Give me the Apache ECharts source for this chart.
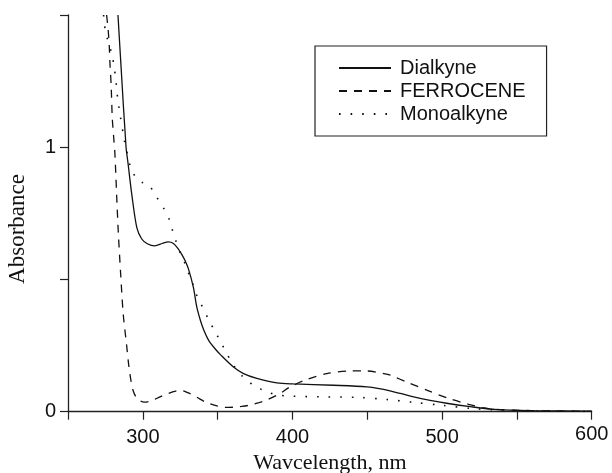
<!DOCTYPE html>
<html>
<head>
<meta charset="utf-8">
<script src="https://cdn.jsdelivr.net/npm/echarts@6/dist/echarts.min.js"></script>
<style>html,body{margin:0;padding:0;background:#fff}#c{width:612px;height:473px}</style>
</head>
<body>
<div id="c"></div>
<script>
// Series names
var seriesNames = ['Dialkyne', 'FERROCENE', 'Monoalkyne'];

// Dialkyne (solid)
var dialkyneX = [283.4,285.5,288.8,290,292.6,296,299.3,303,308,313,317,320.5,323.8,326,328.3,330.5,333.8,336.1,338.5,341,344,348,352,360.6,367.3,376.2,389.6,400.7,427.5,449.8,460,472,481,492,503,519,536.7,560,600];
var dialkyneY = [1.50,1.30,1.00,0.945,0.823,0.696,0.653,0.635,0.627,0.636,0.642,0.636,0.615,0.595,0.571,0.54,0.47,0.395,0.345,0.305,0.27,0.24,0.215,0.169,0.144,0.126,0.109,0.105,0.100,0.094,0.085,0.069,0.056,0.043,0.032,0.019,0.008,0.004,0.002];

// FERROCENE (dashed)
var ferroceneX = [275.8,276.9,277.6,278.1,278.8,279.6,280.5,281.4,282.5,283.6,285.2,286.9,289.2,290.5,292,293.5,295.5,298,301,306,311.5,317,322,325.5,330,336,342,349.5,355,360.6,366,371.7,377,382.8,391.8,398.5,409.6,423,438.6,449.8,461,465.4,477.6,491,504.4,517.8,527,535,560,600];
var ferroceneY = [1.50,1.44,1.38,1.31,1.24,1.11,1.04,0.97,0.82,0.68,0.52,0.37,0.25,0.18,0.12,0.08,0.055,0.042,0.036,0.042,0.056,0.069,0.078,0.080,0.072,0.055,0.036,0.022,0.016,0.017,0.020,0.025,0.033,0.044,0.069,0.094,0.122,0.144,0.154,0.154,0.144,0.138,0.109,0.079,0.050,0.028,0.015,0.009,0.004,0.001];

// Monoalkyne (dotted)
var monoX = [273.8,274.1,275.4,279.6,280.8,281.9,282.6,283.4,284.6,287.5,288.8,292,296.4,300,304.2,308.7,313.7,317.6,319.8,322.2,325,328.3,331.2,333.8,336.5,340.5,344.3,348.3,352.1,356.1,360.6,366.6,374,382.9,390.7,398.5,420,445,463,480,500,520,540,560,600];
var monoY = [1.50,1.474,1.43,1.346,1.302,1.26,1.217,1.175,1.132,1.03,0.997,0.922,0.878,0.866,0.856,0.816,0.772,0.728,0.686,0.644,0.60,0.559,0.514,0.477,0.433,0.389,0.345,0.303,0.263,0.220,0.176,0.134,0.100,0.075,0.063,0.059,0.056,0.054,0.046,0.036,0.024,0.012,0.006,0.003,0.001];

// Axis labels
var xLabelValues = [300, 400, 500, 600];
var yLabelValues = [0, 1];

function pairs(xs, ys) { return xs.map(function (x, i) { return [x, ys[i]]; }); }

var chart = echarts.init(document.getElementById('c'), null, {renderer: 'canvas'});
var axisColor = '#222';
var sans = '"Liberation Sans", Arial, sans-serif';
var serif = '"Liberation Serif", "Times New Roman", serif';

chart.setOption({
  animation: false,
  backgroundColor: '#fff',
  grid: {left: 68, right: 20.3, top: 15, bottom: 61.3, containLabel: false, outerBoundsMode: 'none'},
  xAxis: {
    type: 'value', min: 250, max: 600, interval: 50,
    name: 'Wavcelength, nm', nameLocation: 'middle', nameGap: 36,
    nameTextStyle: {fontFamily: serif, fontSize: 22, color: '#111'},
    axisLine: {show: true, lineStyle: {color: axisColor, width: 1.3}},
    axisTick: {show: true, inside: false, length: 8, lineStyle: {color: axisColor, width: 1.2}},
    axisLabel: {
      margin: 13, fontFamily: sans, fontSize: 20, color: '#111',
      formatter: function (v) {
        if (xLabelValues.indexOf(v) < 0) return '';
        return v === 600 ? String(v) : '{n|' + v + '}';
      },
      rich: {n: {fontFamily: sans, fontSize: 20, color: '#111', padding: [3, 0, 0, 0]}}
    },
    splitLine: {show: false}
  },
  yAxis: {
    type: 'value', min: 0, max: 1.5, interval: 0.5,
    axisLine: {show: true, lineStyle: {color: axisColor, width: 1.3}},
    axisTick: {show: true, inside: false, length: 8, lineStyle: {color: axisColor, width: 1.2}},
    axisLabel: {
      margin: 12, fontFamily: sans, fontSize: 20, color: '#111',
      formatter: function (v) { return yLabelValues.indexOf(v) >= 0 ? String(v) : ''; }
    },
    splitLine: {show: false}
  },
  graphic: [{
    type: 'text', x: 18, y: 229, rotation: Math.PI / 2,
    style: {text: 'Absorbance', fontFamily: serif, fontSize: 23, fill: '#111', align: 'center', verticalAlign: 'middle'}
  }],
  legend: {
    left: 315, top: 46, orient: 'vertical',
    padding: [12, 21, 12, 23],
    borderColor: '#222', borderWidth: 1.2,
    itemWidth: 52, itemHeight: 14, itemGap: 3,
    itemStyle: {opacity: 0},
    textStyle: {fontFamily: sans, fontSize: 20, color: '#111', padding: [0, 0, 0, 4]},
    data: seriesNames
  },
  series: [
    {name: seriesNames[0], type: 'line', data: pairs(dialkyneX, dialkyneY), smooth: 0.3, symbol: 'none', clip: true,
     lineStyle: {color: '#111', width: 1.3, type: 'solid'}, itemStyle: {color: '#111'}},
    {name: seriesNames[1], type: 'line', data: pairs(ferroceneX, ferroceneY), smooth: 0.3, symbol: 'none', clip: true,
     lineStyle: {color: '#111', width: 1.3, type: [8, 7]}, itemStyle: {color: '#111'}},
    {name: seriesNames[2], type: 'line', data: pairs(monoX, monoY), smooth: 0.3, symbol: 'none', clip: true,
     lineStyle: {color: '#111', width: 1.6, type: [1.6, 10]}, itemStyle: {color: '#111'}}
  ]
});
</script>
</body>
</html>
